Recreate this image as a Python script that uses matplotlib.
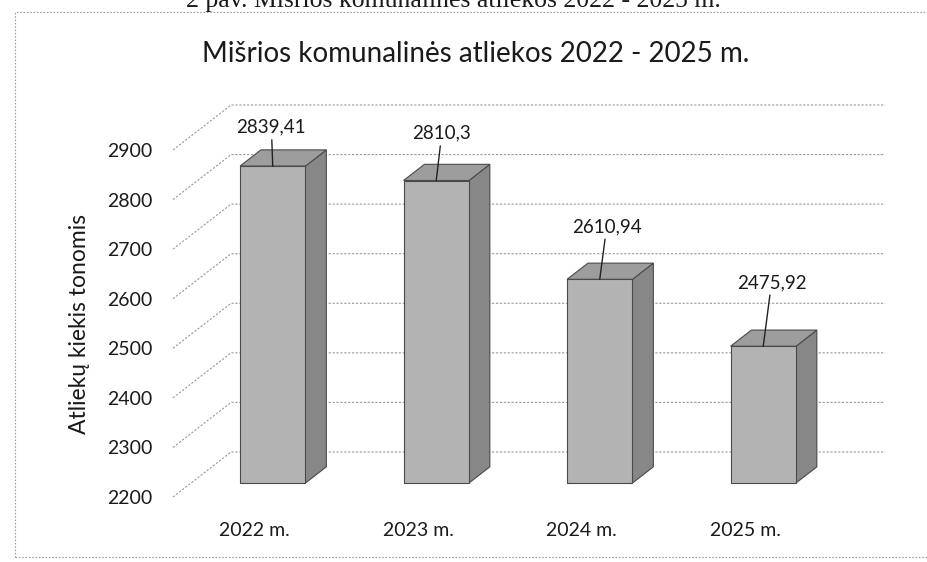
import matplotlib
matplotlib.use("Agg")
import matplotlib.pyplot as plt
from matplotlib.patches import Polygon, Rectangle

plt.rcParams['font.family'] = ['Lato', 'DejaVu Sans']

years = ["2022 m.", "2023 m.", "2024 m.", "2025 m."]
waste_tonnes = [2839.41, 2810.3, 2610.94, 2475.92]
value_labels = ["2839,41", "2810,3", "2610,94", "2475,92"]
y_ticks = [2200, 2300, 2400, 2500, 2600, 2700, 2800, 2900]

# fake 3d: full depth of the box in data units, bars sit between d0 and d1
depth_x = 0.355
depth_y = 90.8
d0, d1 = 0.31, 0.67
bar_w = 0.4
label_offsets = [(-1, 28), (4, 34), (5, 38), (6, 46)]  # points

fig = plt.figure(figsize=(9.27, 5.62), dpi=100)
ax = fig.add_axes([173 / 927, 65 / 562, 654 / 927, 347 / 562])
ax.set_xlim(-0.5, 3.5)
ax.set_ylim(2200, 2900)
for s in ax.spines.values():
    s.set_visible(False)


def proj(x, v, d):
    return (x + d * depth_x, v + d * depth_y)


# side wall + back wall gridlines
grid_kw = dict(color='#9a9a9a', lw=0.8, linestyle=(0, (2, 1.5)), clip_on=False, zorder=1)
for v in y_ticks:
    p0 = proj(-0.5, v, 0)
    p1 = proj(-0.5, v, 1)
    p2 = proj(3.5, v, 1)
    ax.plot([p0[0], p1[0], p2[0]], [p0[1], p1[1], p2[1]], **grid_kw)

base = y_ticks[0]
for i, v in enumerate(waste_tonnes):
    xl, xr = i - bar_w / 2, i + bar_w / 2
    front = [proj(xl, base, d0), proj(xr, base, d0), proj(xr, v, d0), proj(xl, v, d0)]
    side = [proj(xr, base, d0), proj(xr, base, d1), proj(xr, v, d1), proj(xr, v, d0)]
    top = [proj(xl, v, d0), proj(xr, v, d0), proj(xr, v, d1), proj(xl, v, d1)]
    ax.add_patch(Polygon(side, closed=True, fc='#878787', ec='#4a4a4a', lw=0.8, clip_on=False, zorder=3))
    ax.add_patch(Polygon(top, closed=True, fc='#9d9d9d', ec='#4a4a4a', lw=0.8, clip_on=False, zorder=3))
    ax.add_patch(Polygon(front, closed=True, fc='#b3b3b3', ec='#4a4a4a', lw=0.8, clip_on=False, zorder=4))
    tx, ty = proj(i, v, d0)
    ax.annotate(value_labels[i], xy=(tx, ty), xytext=label_offsets[i], textcoords='offset points',
                ha='center', va='center', fontsize=13.5, color='#1a1a1a', zorder=6,
                arrowprops=dict(arrowstyle='-', color='#222222', lw=1, shrinkA=1, shrinkB=0))

ax.set_xticks(range(len(years)))
ax.set_xticklabels(years, fontsize=14, color='#1a1a1a')
ax.set_yticks(y_ticks)
ax.set_yticklabels([str(t) for t in y_ticks], fontsize=14, color='#1a1a1a')
ax.tick_params(axis='x', length=0, pad=18)
ax.tick_params(axis='y', length=0, pad=15)

ax.set_ylabel("Atliekų kiekis tonomis", fontsize=16.5, color='#1a1a1a')
ax.yaxis.set_label_coords(-0.127, 0.5)

fig.text(476 / 927, 1 - 62 / 562, "Mišrios komunalinės atliekos 2022 - 2025 m.",
         ha='center', va='baseline', fontsize=20, color='#1a1a1a')

# caption of the document, cut by the scan edge
fig.text(453 / 927, 1 - 7 / 562, "2 pav. Mišrios komunalinės atliekos 2022 - 2025 m.",
         ha='center', va='baseline', fontsize=18.5, family=['Liberation Serif', 'DejaVu Serif'],
         color='#1a1a1a')

fig.patches.append(Rectangle((15 / 927, 1 - 557 / 562), 930 / 927, 545 / 562,
                             transform=fig.transFigure, fill=False, ec='#a0a0a0',
                             lw=0.8, linestyle=(0, (1.5, 1.5))))

fig.savefig("out.png", dpi=100)
